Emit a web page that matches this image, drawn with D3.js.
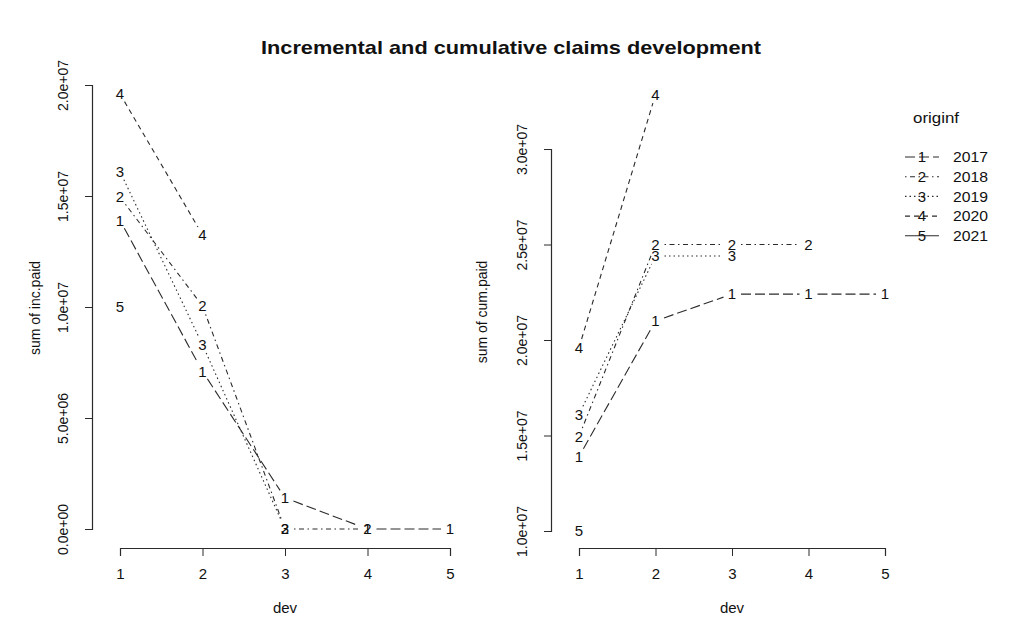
<!DOCTYPE html>
<html>
<head>
<meta charset="utf-8">
<script src="https://cdn.jsdelivr.net/npm/d3@7"></script>
<style>
   body { margin: 0; background: #fff; }
   svg { font-family: 'Liberation Sans', Arial, sans-serif; }
</style>
</head>
<body>
<div id="chart"></div>
<script>
// development periods and origin years
var devs = [1, 2, 3, 4, 5];
var origins = ['2017', '2018', '2019', '2020', '2021'];

// incremental paid per origin year
var inc2017 = [13.9e6, 7.1e6, 1.4e6, 0, 0];
var inc2018 = [14.95e6, 10.05e6, 0, 0];
var inc2019 = [16.1e6, 8.3e6, 0];
var inc2020 = [19.6e6, 13.25e6];
var inc2021 = [10.0e6];

var incTicks = [0, 5e6, 1e7, 1.5e7, 2e7];
var cumTicks = [1e7, 1.5e7, 2e7, 2.5e7, 3e7];

// R lty 5,4,3,2,1 (interaction.plot default)
var dashes = ['10,4', '1.5,3.5,5,3.5', '1.5,3', '5,4', null];

var incSeries = [inc2017, inc2018, inc2019, inc2020, inc2021];
var cumSeries = incSeries.map(function (s) { return Array.from(d3.cumsum(s)); });

var width = 1020, height = 632;
var ink = '#2b2b2b';
var txt = '#111';

var svg = d3.select('#chart')
   .append('svg')
   .attr('width', width)
   .attr('height', height);

function sci(v) {
   var s = v.toExponential(1).split('e');
   var e = +s[1];
   return s[0] + 'e' + (e < 0 ? '-' : '+') + (Math.abs(e) < 10 ? '0' : '') + Math.abs(e);
}

function panel(opt) {
   var x = d3.scaleLinear().domain([1, 5]).range(opt.xr);
   var y = d3.scaleLinear().domain(opt.yd).range(opt.yr);
   var g = svg.append('g');

   // x axis
   var xa = g.append('g')
      .attr('transform', 'translate(0,' + opt.xAxisY + ')')
      .call(d3.axisBottom(x).tickValues(devs).tickSizeOuter(0).tickSize(8).tickFormat(d3.format('d')));
   xa.selectAll('path, line').attr('stroke', ink);
   xa.selectAll('text')
      .attr('y', 26).attr('dy', '0.35em')
      .attr('font-size', 15).attr('fill', txt);

   // y axis
   var ya = g.append('g')
      .attr('transform', 'translate(' + opt.yAxisX + ',0)')
      .call(d3.axisLeft(y).tickValues(opt.ticks).tickSizeOuter(0).tickSize(7).tickFormat(sci));
   ya.selectAll('path, line').attr('stroke', ink);
   ya.selectAll('text')
      .attr('x', 0).attr('y', 0).attr('dy', '0.35em')
      .attr('text-anchor', 'middle')
      .attr('transform', 'translate(-29,0) rotate(-90)')
      .attr('font-size', 14).attr('fill', txt);
   g.selectAll('.domain').attr('stroke-width', 1.2);

   // axis titles
   g.append('text')
      .attr('x', d3.mean(opt.xr)).attr('y', 608).attr('dy', '0.35em')
      .attr('text-anchor', 'middle').attr('font-size', 15).attr('fill', txt)
      .text('dev');
   g.append('text')
      .attr('transform', 'translate(' + opt.ylabX + ',' + opt.ylabY + ') rotate(-90)')
      .attr('dy', '0.35em')
      .attr('text-anchor', 'middle').attr('font-size', 14).attr('fill', txt)
      .text(opt.ylab);

   // type = "b": segments broken around each numbered point
   var gap = 9;
   opt.series.forEach(function (s, k) {
      var pts = s.map(function (v, i) { return [x(devs[i]), y(v)]; });
      for (var i = 1; i < pts.length; i++) {
         var a = pts[i - 1], b = pts[i];
         var dx = b[0] - a[0], dy = b[1] - a[1];
         var d = Math.sqrt(dx * dx + dy * dy);
         if (d <= 2 * gap) continue;
         var ux = dx / d, uy = dy / d;
         g.append('line')
            .attr('x1', a[0] + ux * gap).attr('y1', a[1] + uy * gap)
            .attr('x2', b[0] - ux * gap).attr('y2', b[1] - uy * gap)
            .attr('stroke', ink).attr('stroke-width', 1.1)
            .attr('stroke-dasharray', dashes[k]);
      }
      g.selectAll(null).data(pts).enter().append('text')
         .attr('x', function (p) { return p[0]; })
         .attr('y', function (p) { return p[1]; })
         .attr('dy', '0.35em')
         .attr('text-anchor', 'middle').attr('font-size', 15).attr('fill', txt)
         .text(k + 1);
   });
}

panel({
   series: incSeries, yd: [0, 2e7], ticks: incTicks,
   xr: [120, 450], yr: [529, 85],
   xAxisY: 548, yAxisX: 92, ylabX: 35, ylabY: 308, ylab: 'sum of  inc.paid'
});

panel({
   series: cumSeries, yd: [1e7, 3e7], ticks: cumTicks,
   xr: [579, 885], yr: [531, 149],
   xAxisY: 548, yAxisX: 551, ylabX: 482, ylabY: 312, ylab: 'sum of  cum.paid'
});

// title
svg.append('text')
   .attr('x', 511).attr('y', 54)
   .attr('text-anchor', 'middle')
   .attr('font-size', 19).attr('font-weight', 'bold').attr('fill', txt)
   .attr('textLength', 500).attr('lengthAdjust', 'spacingAndGlyphs')
   .text('Incremental and cumulative claims development');

// legend
var lg = svg.append('g');
lg.append('text')
   .attr('x', 913).attr('y', 118).attr('dy', '0.35em')
   .attr('font-size', 15).attr('fill', txt)
   .attr('textLength', 46).attr('lengthAdjust', 'spacingAndGlyphs')
   .text('originf');
var rows = lg.selectAll('g.row').data(origins).enter().append('g')
   .attr('class', 'row')
   .attr('transform', function (d, i) { return 'translate(0,' + (157 + i * 19.7) + ')'; });
rows.append('line')
   .attr('x1', 905).attr('x2', 939).attr('y1', 0).attr('y2', 0)
   .attr('stroke', ink).attr('stroke-width', 1.1)
   .attr('stroke-dasharray', function (d, i) { return dashes[i]; });
rows.append('text')
   .attr('x', 922).attr('dy', '0.35em')
   .attr('text-anchor', 'middle').attr('font-size', 15).attr('fill', txt)
   .text(function (d, i) { return i + 1; });
rows.append('text')
   .attr('x', 953).attr('dy', '0.35em')
   .attr('font-size', 15).attr('fill', txt)
   .attr('textLength', 35).attr('lengthAdjust', 'spacingAndGlyphs')
   .text(function (d) { return d; });
</script>
</body>
</html>
